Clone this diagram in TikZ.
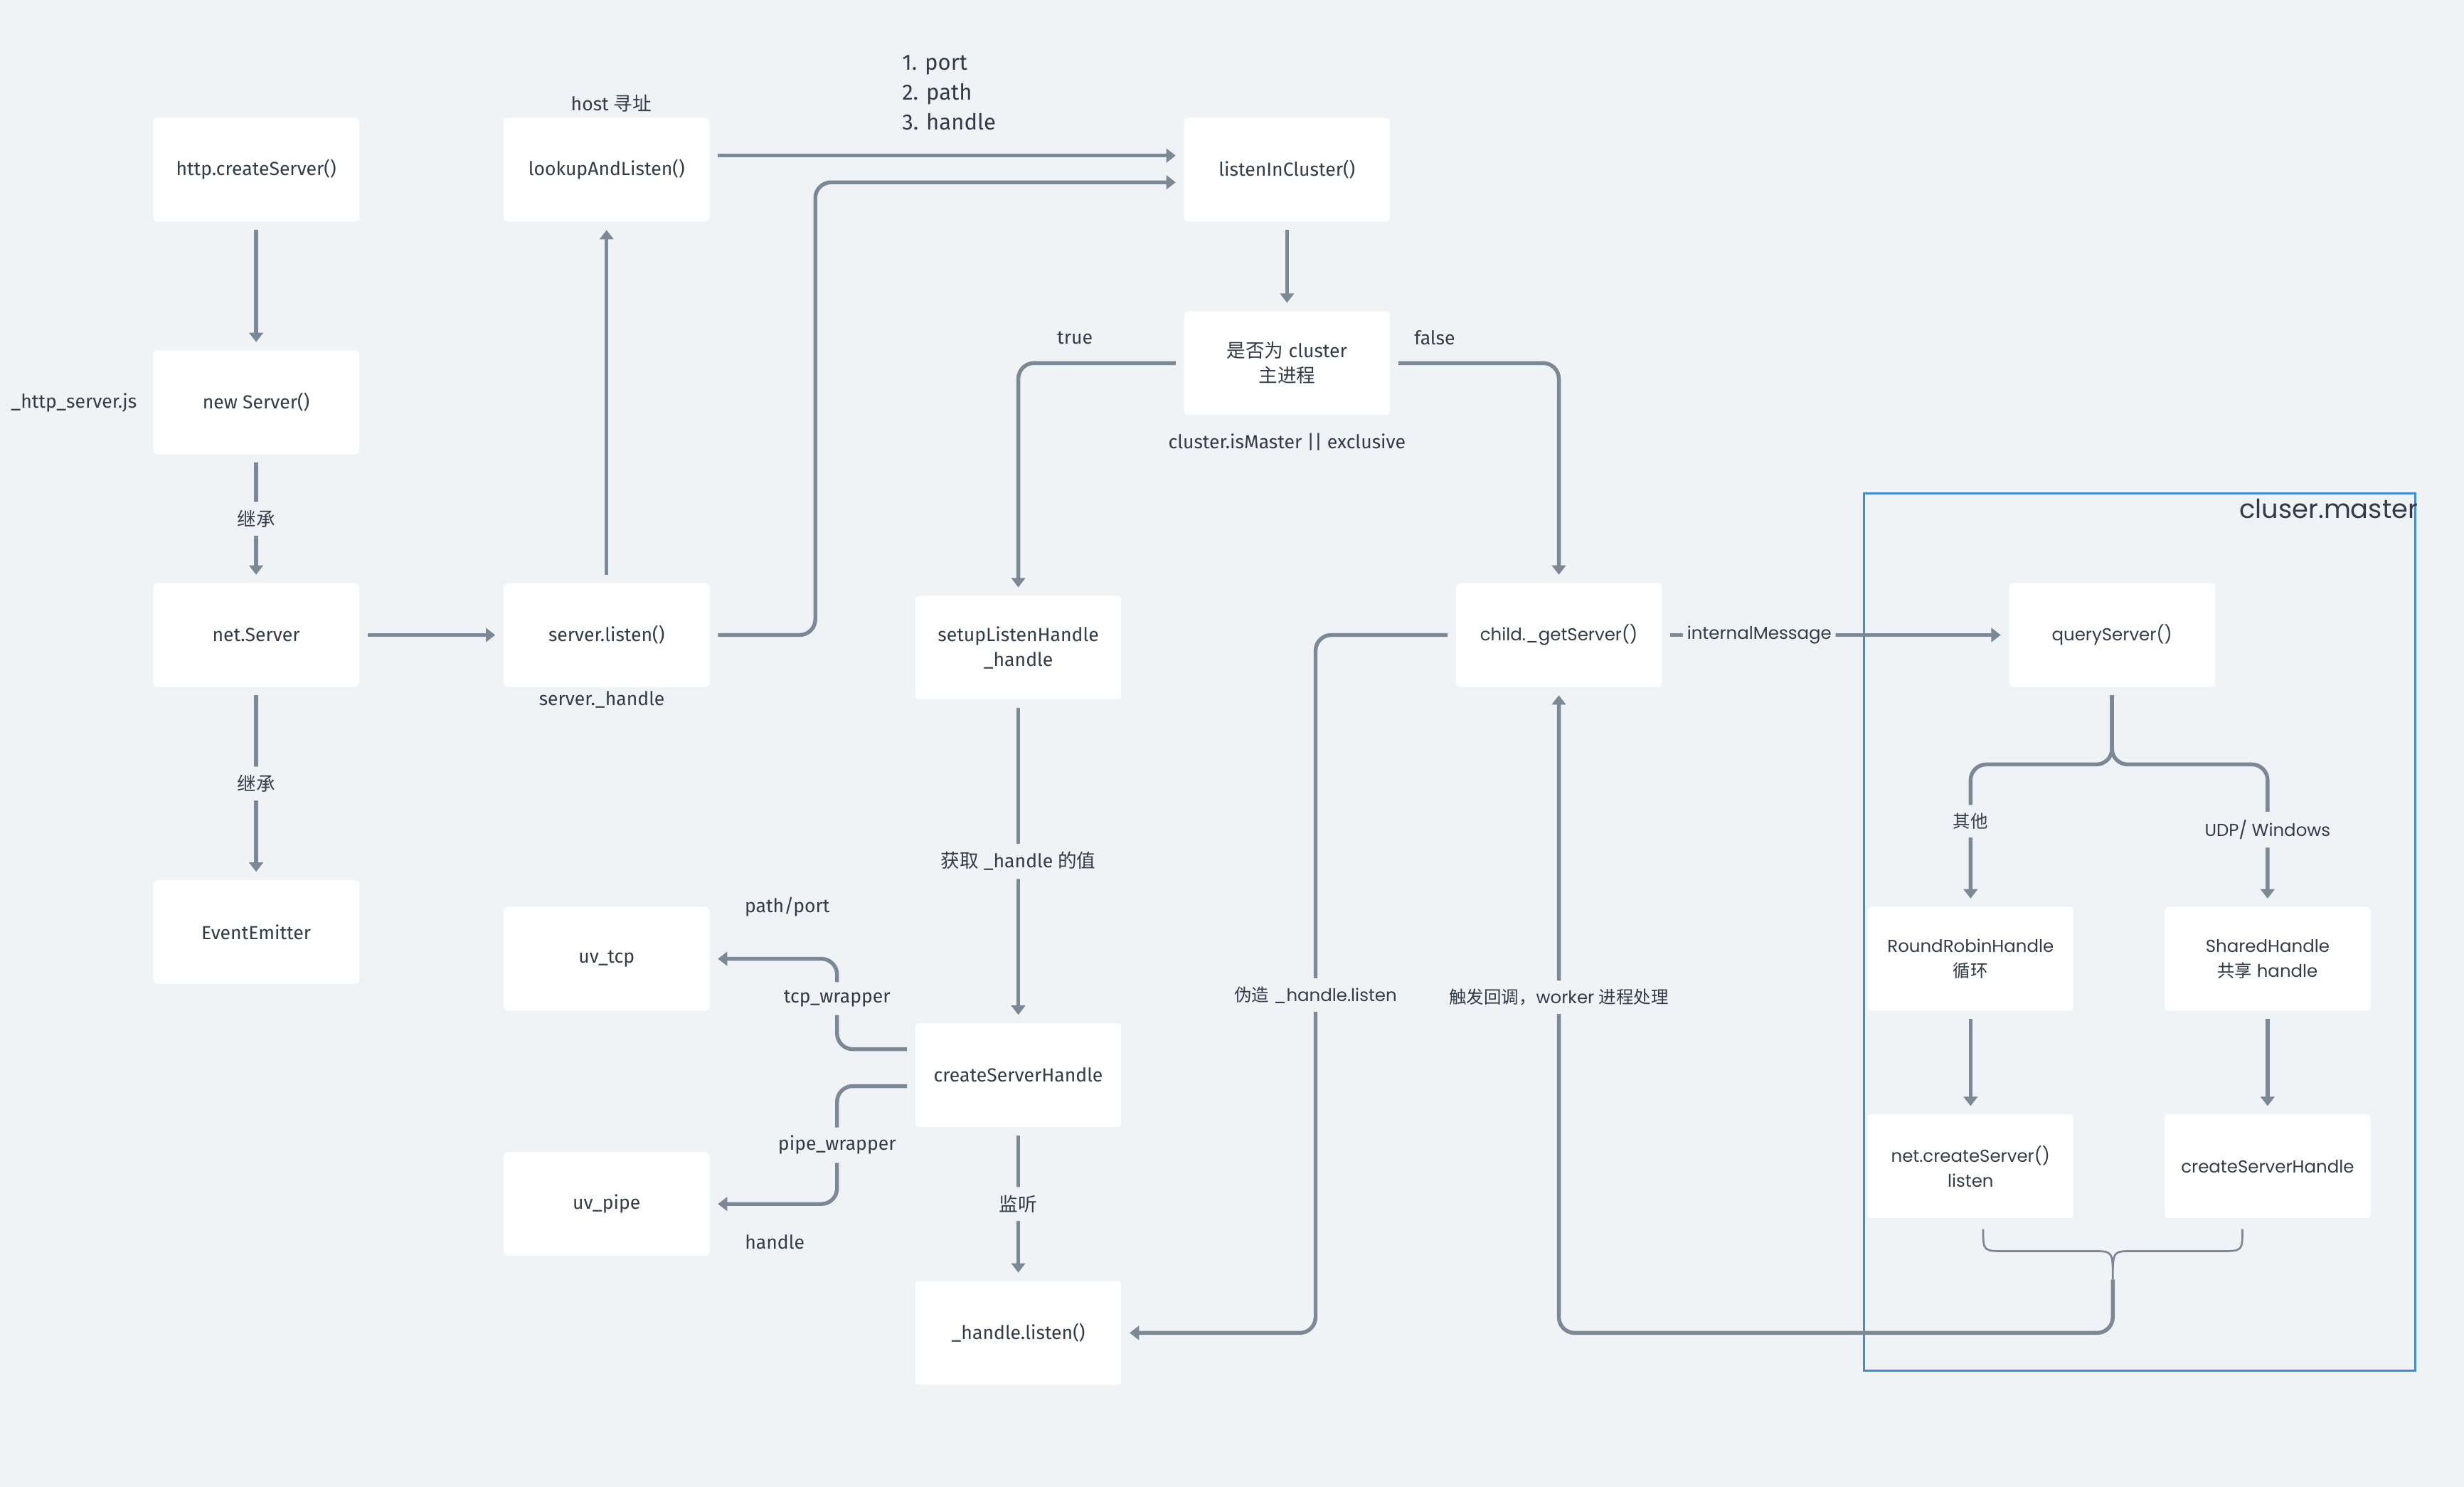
\documentclass[tikz,border=0pt]{standalone}
\usepackage{fontspec}
\setmainfont{Fira Sans}
\newfontfamily\widefont{Poppins}
\newfontfamily\cjk{Noto Sans CJK SC}
\newcommand{\zh}[1]{{\cjk #1}}
\usepackage{xcolor}
\usepackage{tikz}
\usetikzlibrary{arrows.meta, positioning, calc}

\definecolor{bgcol}{HTML}{F0F3F6}
\definecolor{linecol}{HTML}{7B8896}
\definecolor{txtcol}{HTML}{323C48}
\definecolor{framecol}{HTML}{3E8DD8}

\tikzset{
  box/.style={fill=white, rounded corners=1.5pt, minimum width=2.62cm, minimum height=1.32cm, align=center, text=txtcol},
  link/.style={draw=linecol, line width=1.4pt, -{Triangle[width=5pt,length=3.4pt]}, shorten <=0.1cm, shorten >=0.1cm, rounded corners=0.2cm},
  lbl/.style={fill=bgcol, text=txtcol, inner xsep=1.5pt, inner ysep=3pt},
  note/.style={text=txtcol, inner sep=1pt},
  wide/.style={font=\widefont\fontsize{6.3}{9}\selectfont},
}

\begin{document}
\begin{tikzpicture}[x=0.02cm, y=-0.02cm, >=Stealth, font=\fontsize{6.85}{9}\selectfont]
% Canvas
\fill[bgcol] (0,0) rectangle (1568,946);
\useasboundingbox (0,0) rectangle (1568,946);
% cluster.master frame
\draw[framecol, line width=0.8pt] (1186,314) rectangle (1537,872);
\node[anchor=north east, inner sep=0pt, text=txtcol, font=\widefont\fontsize{9.5}{11}\selectfont] (mframe) at (1539,317) {cluser.master};
% Boxes
\foreach \nm/\x/\y/\t in {hcs/163/108/{http.createServer()}, newsrv/163/256/{new Server()}, netsrv/163/404/net.Server,
    emitter/163/593/EventEmitter, lookup/386/108/{lookupAndListen()}, listen/386/404/{server.listen()},
    uvtcp/386/610/uv\_tcp, uvpipe/386/766/uv\_pipe, lic/819/108/{listenInCluster()},
    csh/648/684/createServerHandle, hlisten/648/848/{\_handle.listen()}} {
    \node[box] (\nm) at (\x,\y) {\t};
}
\node[box] (ismaster) at (819,231) {\zh{是否为} cluster\\\zh{主进程}};
\node[box] (setup) at (648,412) {setupListenHandle\\\_handle};
% Boxes, worker / master side
\node[box, wide] (getsrv) at (992,404) {child.\_getServer()};
\node[box, wide] (query) at (1344,404) {queryServer()};
\node[box, wide] (rr) at (1254,610) {RoundRobinHandle\\\zh{循环}};
\node[box, wide] (shared) at (1443,610) {SharedHandle\\\zh{共享} handle};
\node[box, wide] (netcs) at (1254,742) {net.createServer()\\listen};
\node[box, wide] (csh2) at (1443,742) {createServerHandle};
% Free notes
\node[note] (hostlbl) at (389,66) {host \zh{寻址}};
\node[note] (jsfile) at (47,256) {\_http\_server.js};
\node[note] (handlelbl) at (383,445) {server.\_handle};
\node[note] (condlbl) at (819,281) {cluster.isMaster || exclusive};
\node[note] (truelbl) at (684,215) {true};
\node[note] (falselbl) at (913,215) {false};
\node[note, anchor=west, align=left, font=\fontsize{8}{10.8}\selectfont] (params) at (572,59) {1. port\\2. path\\3. handle};
\node[note] (pathport) at (501,577) {path/port};
\node[note] (handlenote) at (493,790) {handle};
% Connectors, left side
\draw[link] (hcs) -- (newsrv);
\draw[link] (newsrv) -- node[lbl] {\zh{继承}} (netsrv);
\draw[link] (netsrv) -- node[lbl] {\zh{继承}} (emitter);
\draw[link] (netsrv) -- (listen);
\draw[link] (listen) -- (lookup);
\draw[link] ([yshift=0.18cm]lookup.east) -- ([yshift=0.18cm]lic.west);
\draw[link] (listen.east) -- ++(67,0) |- ([yshift=-0.16cm]lic.west);
\draw[link] (lic) -- (ismaster);
\draw[link] (ismaster.west) -| (setup.north);
\draw[link] (ismaster.east) -| (getsrv.north);
\draw[link] (setup) -- node[lbl] {\zh{获取} \_handle \zh{的值}} (csh);
\draw[link] ([yshift=0.33cm]csh.west) -- ++(-49.5,0) |- node[lbl, pos=0.28] {tcp\_wrapper} (uvtcp.east);
\draw[link] ([yshift=-0.14cm]csh.west) -- ++(-49.5,0) |- node[lbl, pos=0.25] {pipe\_wrapper} (uvpipe.east);
\draw[link] (csh) -- node[lbl] {\zh{监听}} (hlisten);
% Connectors, worker and master
\draw[link] (getsrv.west) -- ++(-89,0) |- node[lbl, wide, pos=0.258] {\zh{伪造} \_handle.listen} (hlisten.east);
\draw[link] (getsrv) -- node[lbl, wide, pos=0.28] {internalMessage} (query);
\draw[link] (query.south) -- ++(0,49) -| node[lbl, wide, pos=0.7] {\zh{其他}} (rr.north);
\draw[link] (query.south) -- ++(0,49) -| node[lbl, wide, pos=0.73] {UDP/ Windows} (shared.north);
\draw[link] (rr) -- (netcs);
\draw[link] (shared) -- (csh2);
% Brace under the two results
\draw[linecol, line width=0.7pt] (1262,782) .. controls (1262,796) .. (1276,796) -- (1332,796)
  .. controls (1344.5,796) .. (1344.5,814) .. controls (1344.5,796) .. (1357,796) -- (1413,796)
  .. controls (1427,796) .. (1427,782);
\coordinate (btip) at (1344.5,814);
\draw[link, shorten <=0pt] (btip) -- ++(0,34) -| node[lbl, wide, pos=0.76] {\zh{触发回调，}worker \zh{进程处理}} (getsrv.south);
\end{tikzpicture}
\end{document}
